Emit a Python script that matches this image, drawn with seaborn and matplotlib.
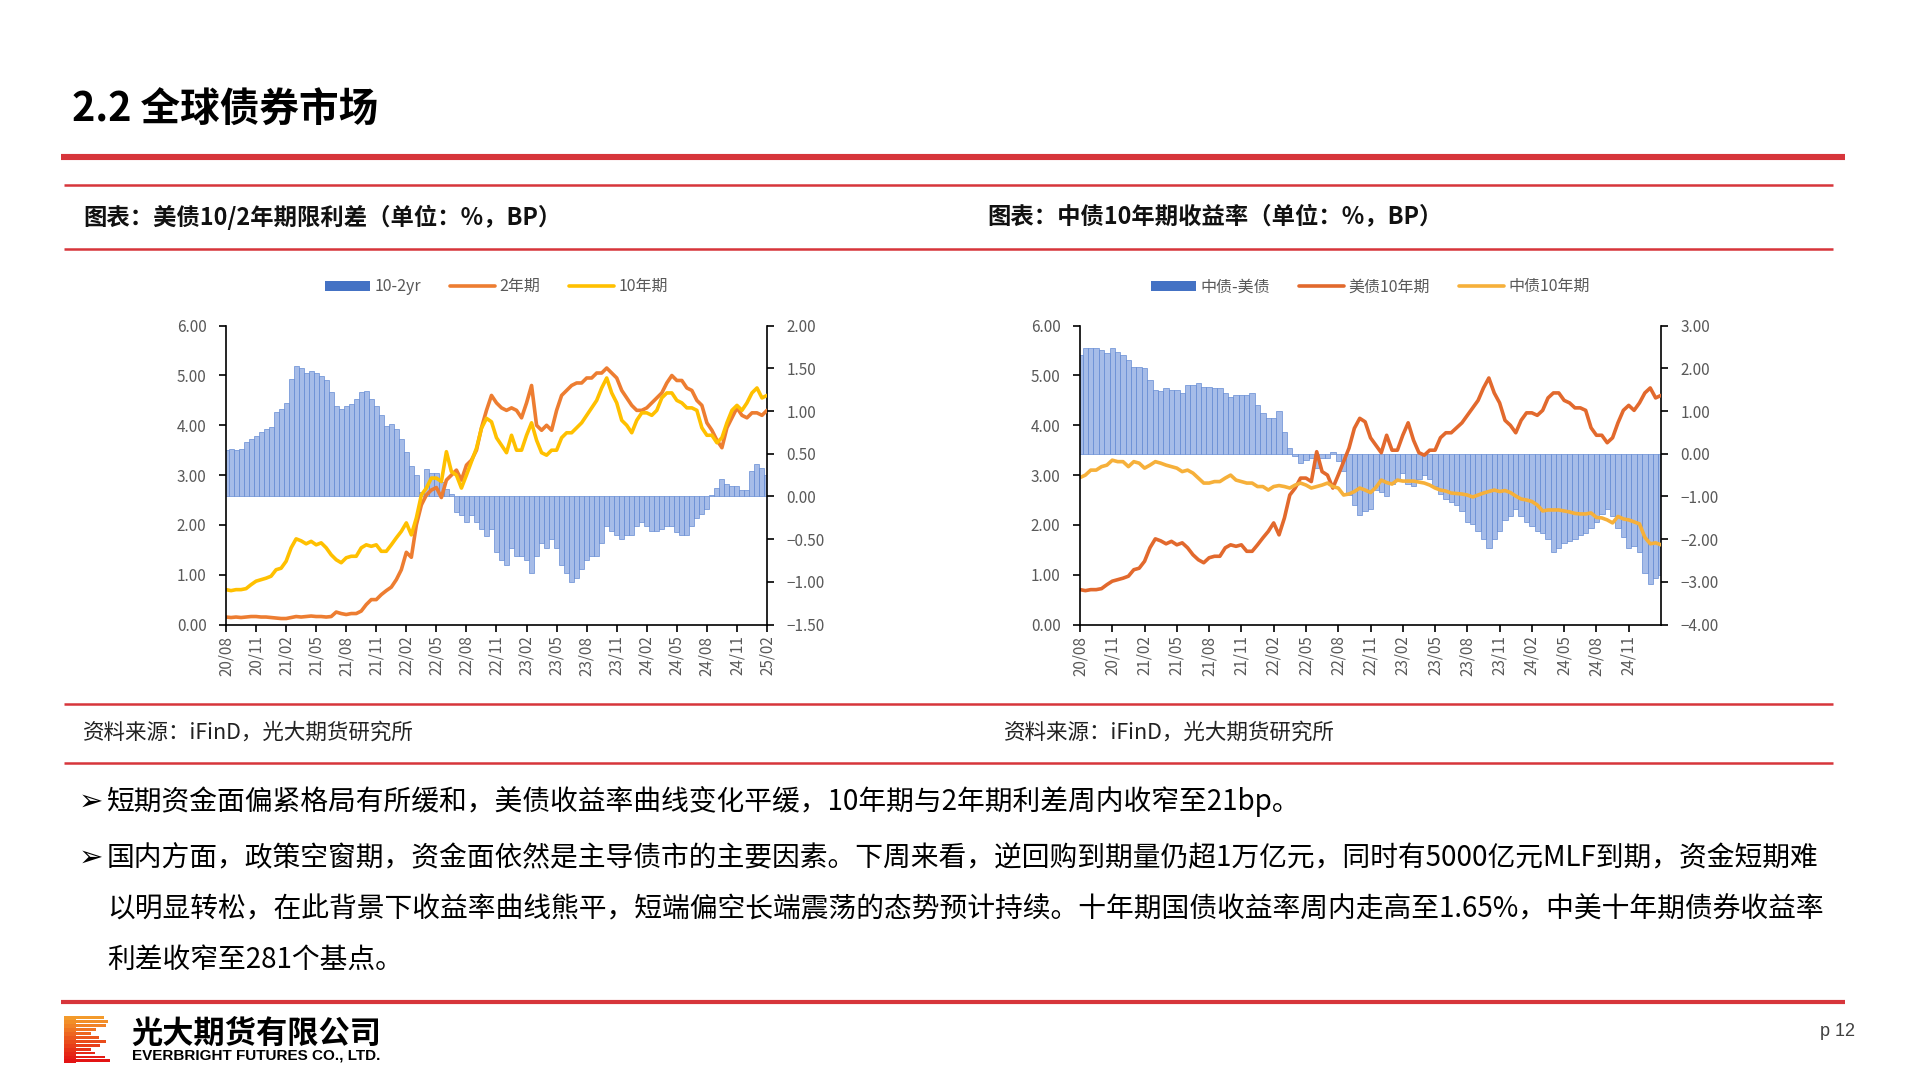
import numpy as np
import matplotlib
matplotlib.use("Agg")
import matplotlib.pyplot as plt
import seaborn as sns
from matplotlib.lines import Line2D
from matplotlib.patches import Patch, Rectangle
from matplotlib.ticker import FuncFormatter

# observations every half month, counted in months from 2020/08
obs_month = np.arange(0, 54.5, 0.5)

us2y = [0.15, 0.14, 0.15, 0.14, 0.15, 0.16, 0.16, 0.15, 0.15, 0.14,
        0.13, 0.12, 0.12, 0.14, 0.16, 0.15, 0.16, 0.17, 0.16, 0.16,
        0.15, 0.16, 0.25, 0.22, 0.20, 0.22, 0.22, 0.27, 0.40, 0.50,
        0.50, 0.60, 0.68, 0.75, 0.90, 1.10, 1.45, 1.35, 2.00, 2.40,
        2.60, 2.70, 2.75, 2.55, 2.90, 3.00, 3.10, 2.90, 3.20, 3.30,
        3.50, 3.95, 4.30, 4.60, 4.45, 4.35, 4.30, 4.35, 4.30, 4.15,
        4.45, 4.80, 4.00, 3.90, 4.00, 3.90, 4.30, 4.60, 4.70, 4.80,
        4.85, 4.85, 4.95, 4.95, 5.05, 5.05, 5.15, 5.05, 4.95, 4.70,
        4.55, 4.40, 4.30, 4.30, 4.35, 4.45, 4.55, 4.65, 4.85, 5.00,
        4.90, 4.90, 4.75, 4.70, 4.50, 4.40, 4.05, 3.90, 3.70, 3.55,
        3.95, 4.15, 4.35, 4.20, 4.15, 4.25, 4.25, 4.20, 4.30]

us10y = [0.70, 0.68, 0.70, 0.70, 0.72, 0.80, 0.87, 0.90, 0.93, 0.97,
         1.10, 1.13, 1.27, 1.54, 1.72, 1.68, 1.62, 1.67, 1.60, 1.64,
         1.54, 1.40, 1.30, 1.24, 1.34, 1.37, 1.37, 1.54, 1.60, 1.57,
         1.60, 1.47, 1.47, 1.60, 1.74, 1.87, 2.04, 1.80, 2.14, 2.60,
         2.74, 2.94, 2.94, 2.87, 3.47, 3.07, 3.00, 2.74, 3.00, 3.27,
         3.54, 3.94, 4.14, 4.07, 3.75, 3.60, 3.45, 3.80, 3.50, 3.50,
         3.80, 4.05, 3.70, 3.45, 3.40, 3.50, 3.50, 3.75, 3.85, 3.85,
         3.95, 4.05, 4.20, 4.35, 4.50, 4.75, 4.95, 4.65, 4.45, 4.10,
         4.00, 3.85, 4.10, 4.25, 4.25, 4.20, 4.30, 4.55, 4.65, 4.65,
         4.50, 4.45, 4.35, 4.35, 4.30, 3.95, 3.80, 3.80, 3.65, 3.75,
         4.05, 4.30, 4.40, 4.30, 4.45, 4.65, 4.75, 4.55, 4.60]

spread_10_2 = [0.54, 0.56, 0.54, 0.56, 0.64, 0.67, 0.71, 0.75, 0.79, 0.81,
               0.99, 1.02, 1.10, 1.38, 1.53, 1.51, 1.45, 1.47, 1.45, 1.41,
               1.36, 1.22, 1.06, 1.02, 1.06, 1.08, 1.14, 1.22, 1.24, 1.14,
               1.06, 0.95, 0.83, 0.85, 0.79, 0.67, 0.52, 0.36, 0.25, 0.05,
               0.32, 0.28, 0.28, 0.17, 0.09, 0.03, -0.18, -0.22, -0.30, -0.22,
               -0.30, -0.38, -0.46, -0.38, -0.65, -0.75, -0.80, -0.60, -0.70, -0.70,
               -0.75, -0.90, -0.70, -0.55, -0.60, -0.50, -0.60, -0.80, -0.90, -1.00,
               -0.95, -0.85, -0.75, -0.70, -0.70, -0.55, -0.35, -0.40, -0.45, -0.50,
               -0.45, -0.45, -0.35, -0.30, -0.35, -0.40, -0.40, -0.38, -0.35, -0.35,
               -0.42, -0.45, -0.45, -0.35, -0.25, -0.20, -0.15, 0.02, 0.10, 0.20,
               0.15, 0.12, 0.12, 0.07, 0.08, 0.30, 0.38, 0.33, 0.25]

cn10y = [2.95, 3.00, 3.10, 3.10, 3.17, 3.20, 3.30, 3.27, 3.27, 3.17,
         3.27, 3.24, 3.14, 3.20, 3.27, 3.24, 3.20, 3.17, 3.14, 3.07,
         3.10, 3.04, 2.94, 2.84, 2.84, 2.87, 2.87, 2.94, 3.00, 2.90,
         2.87, 2.84, 2.84, 2.77, 2.77, 2.70, 2.77, 2.79, 2.77, 2.74,
         2.80, 2.84, 2.80, 2.74, 2.77, 2.80, 2.84, 2.77, 2.74, 2.60,
         2.62, 2.67, 2.74, 2.70, 2.65, 2.75, 2.90, 2.85, 2.82, 2.90,
         2.88, 2.88, 2.88, 2.86, 2.84, 2.80, 2.74, 2.70, 2.68, 2.64,
         2.63, 2.62, 2.60, 2.56, 2.60, 2.64, 2.67, 2.70, 2.67, 2.69,
         2.65, 2.58, 2.52, 2.50, 2.47, 2.40, 2.28, 2.30, 2.30, 2.30,
         2.28, 2.26, 2.23, 2.22, 2.22, 2.24, 2.15, 2.14, 2.10, 2.04,
         2.17, 2.12, 2.10, 2.06, 2.02, 1.75, 1.62, 1.64, 1.60]

spread_cn_us = [2.31, 2.47, 2.47, 2.47, 2.43, 2.35, 2.47, 2.39, 2.31, 2.20,
                2.04, 2.04, 2.00, 1.73, 1.50, 1.46, 1.54, 1.50, 1.50, 1.42,
                1.61, 1.61, 1.65, 1.57, 1.57, 1.54, 1.54, 1.42, 1.34, 1.38,
                1.38, 1.38, 1.42, 1.15, 0.95, 0.83, 0.83, 1.00, 0.52, 0.13,
                -0.06, -0.22, -0.14, -0.10, -0.34, -0.10, -0.10, 0.05, -0.18, -0.41,
                -0.96, -1.19, -1.43, -1.35, -1.30, -0.85, -0.90, -1.00, -0.70, -0.60,
                -0.45, -0.70, -0.75, -0.60, -0.50, -0.60, -0.75, -0.95, -1.05, -1.12,
                -1.20, -1.35, -1.60, -1.65, -1.80, -2.00, -2.20, -2.00, -1.80, -1.55,
                -1.45, -1.30, -1.45, -1.60, -1.70, -1.80, -1.85, -2.00, -2.30, -2.20,
                -2.10, -2.05, -2.00, -1.90, -1.85, -1.75, -1.60, -1.40, -1.30, -1.45,
                -1.75, -1.95, -2.20, -2.15, -2.30, -2.80, -3.05, -2.90, -2.85]

tick_months = [0, 3, 6, 9, 12, 15, 18, 21, 24, 27, 30, 33, 36, 39, 42, 45, 48, 51, 54]
tick_labels = ["20/08", "20/11", "21/02", "21/05", "21/08", "21/11", "22/02", "22/05",
               "22/08", "22/11", "23/02", "23/05", "23/08", "23/11", "24/02", "24/05",
               "24/08", "24/11", "25/02"]

left_y2_ticks = [-1.5, -1.0, -0.5, 0.0, 0.5, 1.0, 1.5, 2.0]
right_y2_ticks = [-4, -3, -2, -1, 0, 1, 2, 3]

sns.set_theme(style="white")
plt.rcParams["font.family"] = ["Noto Sans CJK SC", "DejaVu Sans"]
plt.rcParams["axes.unicode_minus"] = True

W, H = 1920, 1080
fig = plt.figure(figsize=(19.2, 10.8), dpi=100)
fig.patch.set_facecolor("white")


def fx(x):
    return x / W


def fy(y):
    return 1 - y / H


def rule(y, x0, x1, lw, color="#D7353B"):
    fig.add_artist(Line2D([fx(x0), fx(x1)], [fy(y), fy(y)], lw=lw, color=color,
                          transform=fig.transFigure, solid_capstyle="butt"))


fmt2 = FuncFormatter(lambda v, p: f"{v:.2f}".replace("-", "\u2212"))
GRAY = "#595959"


def draw_chart(rect, bars, bar_label, line_a, lab_a, col_a, line_b, lab_b, col_b,
               y2lim, y2ticks, nticks):
    ax = fig.add_axes(rect)
    ax2 = ax.twinx()
    sns.barplot(x=obs_month, y=bars, ax=ax2, native_scale=True, width=1.0,
                color="#A6BCE8", edgecolor="#5A83D0", linewidth=0.45,
                saturation=1, errorbar=None)
    sns.lineplot(x=obs_month, y=line_a, ax=ax, color=col_a, linewidth=2.6)
    sns.lineplot(x=obs_month, y=line_b, ax=ax, color=col_b, linewidth=2.6)
    ax.set_zorder(ax2.get_zorder() + 1)
    ax.patch.set_visible(False)

    ax.set_xlim(0, 54)
    ax2.set_xlim(0, 54)
    ax.set_ylim(0, 6)
    ax.set_yticks([0, 1, 2, 3, 4, 5, 6])
    ax.yaxis.set_major_formatter(fmt2)
    ax2.set_ylim(*y2lim)
    ax2.set_yticks(y2ticks)
    ax2.yaxis.set_major_formatter(fmt2)
    ax.set_xticks(tick_months[:nticks])
    ax.set_xticklabels(tick_labels[:nticks])
    for a in (ax, ax2):
        a.set_xlabel("")
        a.set_ylabel("")
        for s in a.spines.values():
            s.set_visible(False)
    ax.spines["left"].set_visible(True)
    ax.spines["bottom"].set_visible(True)
    ax2.spines["right"].set_visible(True)
    for s in (ax.spines["left"], ax.spines["bottom"], ax2.spines["right"]):
        s.set_color("black")
        s.set_linewidth(1.2)
    ax.tick_params(axis="y", left=True, direction="out", length=5, width=1.2,
                   color="black", labelcolor=GRAY, labelsize=11, pad=9)
    ax.tick_params(axis="x", bottom=True, direction="out", length=5, width=1.2,
                   color="black", labelcolor=GRAY, labelsize=11, pad=3,
                   labelrotation=90)
    ax2.tick_params(axis="y", right=True, direction="out", length=5, width=1.2,
                    color="black", labelcolor=GRAY, labelsize=11, pad=9)
    ax2.tick_params(axis="x", bottom=False, labelbottom=False)

    handles = [Patch(facecolor="#4472C4", edgecolor="none", label=bar_label),
               Line2D([], [], color=col_a, lw=2.6, label=lab_a),
               Line2D([], [], color=col_b, lw=2.6, label=lab_b)]
    ax.legend(handles=handles, loc="center", bbox_to_anchor=(0.5, 1.13), ncol=3,
              frameon=False, fontsize=11.5, labelcolor=GRAY, handlelength=2.8,
              handleheight=0.6, columnspacing=1.8, handletextpad=0.3)
    return ax


# left chart: US 10/2 term spread
draw_chart([fx(226), fy(624.5), fx(767) - fx(226), (624.5 - 325.7) / H],
           spread_10_2, "10-2yr", us2y, "2年期", "#ED7D31", us10y, "10年期", "#FFC000",
           (-1.5, 2.0), left_y2_ticks, 19)

# right chart: China 10y vs US 10y
draw_chart([fx(1080), fy(624.5), fx(1661) - fx(1080), (624.5 - 325.7) / H],
           spread_cn_us, "中债-美债", us10y, "美债10年期", "#E2692D", cn10y, "中债10年期", "#F6B03A",
           (-4, 3), right_y2_ticks, 18)

# page frame
fig.text(fx(72), fy(110), "2.2 全球债券市场", fontsize=28.5, fontweight="bold",
         ha="left", va="center", color="black")
rule(157, 61, 1845, 4.4)
rule(185, 64, 1833, 1.8)
rule(248.6, 64, 1833, 1.8)
rule(704, 64, 1833, 1.8)
rule(763, 64, 1833, 1.8)
rule(1001.5, 61, 1845, 3.0)

fig.text(fx(83), fy(217), "图表：美债10/2年期限利差（单位：%，BP）", fontsize=16.8,
         fontweight="bold", ha="left", va="center", color="#111111")
fig.text(fx(987), fy(217), "图表：中债10年期收益率（单位：%，BP）", fontsize=16.8,
         fontweight="bold", ha="left", va="center", color="#111111")

fig.text(fx(83), fy(733), "资料来源：iFinD，光大期货研究所", fontsize=15.5,
         style="italic", ha="left", va="center", color="#222222")
fig.text(fx(1004), fy(733), "资料来源：iFinD，光大期货研究所", fontsize=15.5,
         style="italic", ha="left", va="center", color="#222222")

body = [
    (802, True, "短期资金面偏紧格局有所缓和，美债收益率曲线变化平缓，10年期与2年期利差周内收窄至21bp。"),
    (858, True, "国内方面，政策空窗期，资金面依然是主导债市的主要因素。下周来看，逆回购到期量仍超1万亿元，同时有5000亿元MLF到期，资金短期难"),
    (909, False, "以明显转松，在此背景下收益率曲线熊平，短端偏空长端震荡的态势预计持续。十年期国债收益率周内走高至1.65%，中美十年期债券收益率"),
    (960, False, "利差收窄至281个基点。"),
]
for y, arrow, line in body:
    if arrow:
        fig.text(fx(79), fy(y), "\u27a2", fontsize=21, ha="left", va="center",
                 color="black", fontweight="bold", family=["DejaVu Sans"])
    fig.text(fx(107), fy(y), line, fontsize=20, ha="left", va="center", color="black")

# footer logo
stripe_len = [40, 44, 42, 32, 27, 35, 42, 36, 27, 31, 41, 46]
stripe_col = ["#F39A2B", "#F28E28", "#F18226", "#EF7423", "#ED6620", "#EB581D",
              "#E94B1B", "#E83E19", "#E63217", "#E52716", "#E41D15", "#E31414"]
for i, (ln, c) in enumerate(zip(stripe_len, stripe_col)):
    y0 = 1016 + i * 3.95
    fig.add_artist(Rectangle((fx(64), fy(y0 + 2.9)), ln / W, 2.9 / H,
                             transform=fig.transFigure, facecolor=c, edgecolor="none"))
    fig.add_artist(Rectangle((fx(64), fy(y0 + 3.95)), 12 / W, 3.95 / H,
                             transform=fig.transFigure, facecolor=c, edgecolor="none"))
fig.text(fx(131), fy(1034), "光大期货有限公司", fontsize=22.5, fontweight="bold",
         ha="left", va="center", color="black")
fig.text(fx(132), fy(1055), "EVERBRIGHT FUTURES CO., LTD.", fontsize=11,
         fontweight="bold", ha="left", va="center", color="black",
         family=["Liberation Sans"])
fig.text(fx(1820), fy(1031), "p 12", fontsize=13, ha="left", va="center",
         color="#404040", family=["Liberation Sans"])

plt.savefig("out.png", dpi=100)
